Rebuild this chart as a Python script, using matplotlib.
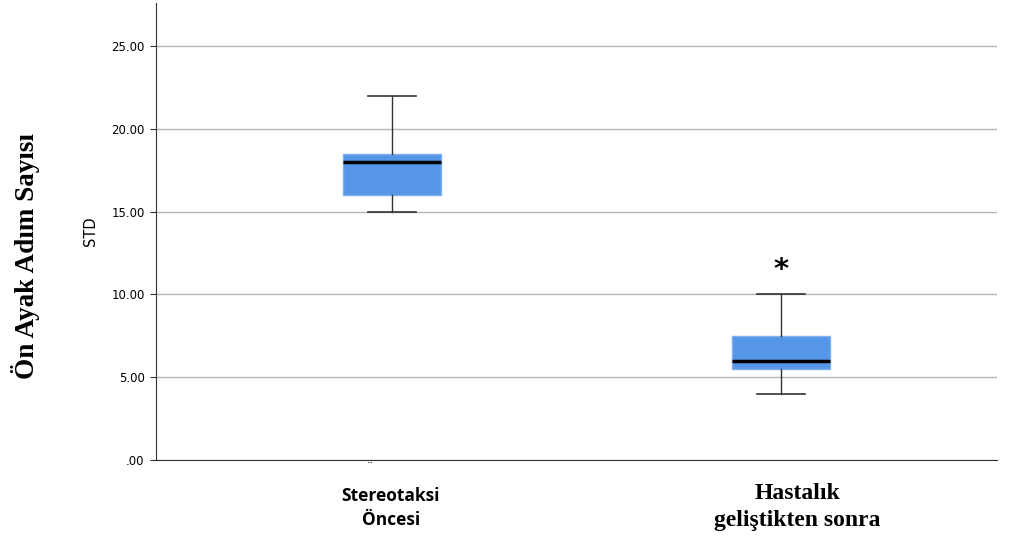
import matplotlib
matplotlib.use("Agg")
import matplotlib.pyplot as plt

# Five-number summaries per group
groups = ["Stereotaksi\nÖncesi", "Hastalık\ngeliştikten sonra"]
whisker_low = [15.0, 4.0]
q1 = [16.0, 5.5]
median = [18.0, 6.0]
q3 = [18.5, 7.5]
whisker_high = [22.0, 10.0]
outliers = [[], [11.5]]
yticks = [0, 5, 10, 15, 20, 25]
ytick_labels = [".00", "5.00", "10.00", "15.00", "20.00", "25.00"]

fig = plt.figure(figsize=(10.12, 5.44), dpi=100)
ax = fig.add_axes([0.154, 0.1544, 0.831, 0.840])

stats = []
for i in range(len(groups)):
    stats.append(dict(whislo=whisker_low[i], q1=q1[i], med=median[i], q3=q3[i],
                      whishi=whisker_high[i], fliers=[]))

positions = [1, 2]
ax.bxp(stats, positions=positions, widths=0.25, patch_artist=True, showfliers=False,
       boxprops=dict(facecolor="#5596e6", edgecolor="#7fb1ee", linewidth=1),
       medianprops=dict(color="black", linewidth=2.5),
       whiskerprops=dict(color="#333333", linewidth=1),
       capprops=dict(color="#333333", linewidth=1.2), capwidths=0.125)

for p, outs in zip(positions, outliers):
    for v in outs:
        ax.text(p, v, "*", ha="center", va="center", fontsize=21, fontweight="bold",
                color="black")

ax.set_xlim(0.393, 2.555)
ax.set_ylim(0, 27.6)
ax.set_yticks(yticks)
ax.set_yticklabels(ytick_labels, fontsize=8.5)
ax.set_xticks([])
ax.yaxis.grid(True, color="#b4b4b4", linewidth=1)
ax.set_axisbelow(True)
for s in ["top", "right"]:
    ax.spines[s].set_visible(False)
ax.spines["left"].set_color("#333333")
ax.spines["bottom"].set_color("#333333")
ax.tick_params(axis="y", length=4, color="#333333", pad=4)

# axis titles
ax.text(-0.078, 0.5, "STD", transform=ax.transAxes, rotation=90, ha="center",
        va="center", fontsize=10.5, family="DejaVu Sans")
fig.text(0.025, 0.53, "Ön Ayak Adım Sayısı", rotation=90, ha="center", va="center",
         fontsize=19.5, fontweight="bold", family="Liberation Serif")

# small diaeresis mark under the first group
fig.text(370 / 1012, 1 - 468 / 544, "¨", ha="center", va="center", fontsize=9,
         color="#222222")

# category labels
fig.text(391 / 1012, 1 - 508 / 544, groups[0], ha="center", va="center", fontsize=12.5,
         fontweight="bold", family="Open Sans", linespacing=1.4)
fig.text(797 / 1012, 1 - 507 / 544, groups[1], ha="center", va="center", fontsize=17,
         fontweight="bold", family="Liberation Serif", linespacing=1.4)

fig.savefig("out.png", dpi=100, facecolor="white")
